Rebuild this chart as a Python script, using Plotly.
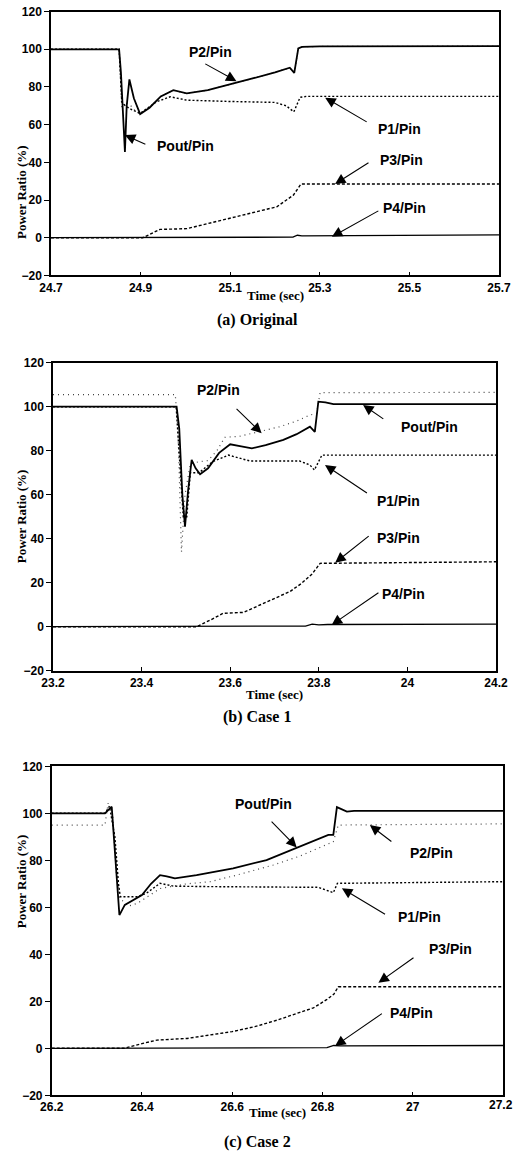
import plotly.graph_objects as go

# ---------------- Panel (a) Original ----------------
a_pout_t = [24.70, 24.852, 24.856, 24.865, 24.869, 24.875, 24.885, 24.899, 24.92, 24.945, 24.973, 24.99, 25.003, 25.05, 25.10, 25.15, 25.20, 25.233, 25.243, 25.252, 25.26, 25.30, 25.70]
a_pout_v = [100, 100, 88, 45.5, 70, 84, 74, 65.6, 69, 75, 78.3, 77.2, 76.6, 78.3, 81.3, 84.5, 87.8, 90.2, 87.5, 100.5, 101.3, 101.5, 101.7]
a_p2_t = [24.70, 24.852, 24.858, 24.866, 24.875, 24.885, 24.899, 24.92, 24.945, 24.973, 24.99, 25.003, 25.05, 25.10, 25.15, 25.20, 25.233, 25.243, 25.252, 25.26, 25.30, 25.70]
a_p2_v = [100, 100, 69, 72, 71, 68, 65.6, 69, 75, 78.3, 77.2, 76.6, 78.3, 81.3, 84.5, 87.8, 90.2, 87.5, 100.5, 101.3, 101.5, 101.7]
a_p1_t = [24.70, 24.852, 24.858, 24.866, 24.88, 24.899, 24.936, 24.966, 25.003, 25.05, 25.10, 25.20, 25.225, 25.242, 25.256, 25.27, 25.70]
a_p1_v = [100, 100, 72, 70, 68, 66, 72.2, 74.8, 73, 72.5, 72.3, 71.8, 70, 66.8, 74.5, 75, 75]
a_p3_t = [24.70, 24.905, 24.943, 25.003, 25.05, 25.10, 25.15, 25.204, 25.241, 25.258, 25.70]
a_p3_v = [0, 0, 4.4, 4.8, 7.5, 10.3, 13, 16.4, 22.6, 28.5, 28.5]
a_p4_t = [24.70, 25.24, 25.25, 25.26, 25.70]
a_p4_v = [0, 0.3, 1.3, 1.0, 1.5]

# ---------------- Panel (b) Case 1 ----------------
b_pout_t = [23.20, 23.479, 23.485, 23.492, 23.498, 23.505, 23.513, 23.522, 23.532, 23.55, 23.575, 23.60, 23.625, 23.649, 23.68, 23.72, 23.75, 23.78, 23.791, 23.799, 23.815, 23.833, 24.20]
b_pout_v = [100, 100, 90, 60, 45.5, 62, 75.8, 72, 69.3, 72, 79, 82.9, 82, 81.1, 82.5, 84.9, 87.5, 90.9, 88.6, 102.3, 102, 101.2, 101.2]
b_p2_t = [23.20, 23.476, 23.482, 23.49, 23.498, 23.51, 23.53, 23.55, 23.57, 23.588, 23.62, 23.667, 23.712, 23.75, 23.78, 23.795, 23.803, 24.20]
b_p2_v = [105.5, 105.5, 90, 34, 60, 74, 75, 75.5, 80, 86.1, 86.5, 88.6, 90.9, 93.5, 96.2, 97, 106.4, 106.5]
b_p1_t = [23.20, 23.478, 23.486, 23.494, 23.502, 23.51, 23.53, 23.56, 23.596, 23.645, 23.70, 23.757, 23.78, 23.79, 23.807, 24.20]
b_p1_v = [100, 100, 75, 50, 50, 70, 70, 75, 78, 75.3, 75.3, 75.3, 73.5, 71.2, 78, 78]
b_p3_t = [23.20, 23.524, 23.555, 23.584, 23.63, 23.67, 23.705, 23.735, 23.761, 23.785, 23.803, 24.20]
b_p3_v = [0, 0, 3, 6.1, 6.5, 10, 13.2, 16, 19.7, 24, 28.8, 29.5]
b_p4_t = [23.20, 23.77, 23.785, 23.80, 23.82, 24.20]
b_p4_v = [0, 0.3, 1.2, 0.8, 1.0, 1.2]

# ---------------- Panel (c) Case 2 ----------------
c_pout_t = [26.20, 26.318, 26.333, 26.342, 26.35, 26.362, 26.40, 26.42, 26.44, 26.455, 26.473, 26.521, 26.588, 26.602, 26.676, 26.743, 26.813, 26.824, 26.832, 26.854, 26.87, 27.20]
c_pout_v = [100, 100, 102.8, 80, 56.7, 61, 65.2, 70, 73.7, 73.2, 72.3, 73.7, 76.3, 76.6, 80.1, 85.5, 90.8, 90.8, 102.6, 100.7, 101, 101]
c_p2_t = [26.20, 26.318, 26.325, 26.335, 26.343, 26.351, 26.37, 26.39, 26.44, 26.50, 26.551, 26.61, 26.691, 26.75, 26.824, 26.835, 27.20]
c_p2_v = [95, 95, 104.3, 100, 75, 63.8, 60.5, 61.7, 68, 70, 70.9, 73.7, 78, 81.8, 87.9, 95, 95.5]
c_p1_t = [26.20, 26.318, 26.328, 26.340, 26.348, 26.352, 26.39, 26.41, 26.44, 26.47, 26.55, 26.65, 26.75, 26.791, 26.824, 26.833, 27.20]
c_p1_v = [100, 100, 103, 90, 70, 64.5, 64.5, 66, 70.2, 69, 68.8, 68.6, 68.6, 68.5, 66.2, 70.2, 70.9]
c_p3_t = [26.20, 26.36, 26.40, 26.433, 26.50, 26.55, 26.60, 26.65, 26.70, 26.75, 26.78, 26.81, 26.825, 26.835, 27.20]
c_p3_v = [0, 0, 2, 3.5, 4.2, 5.5, 7.1, 9.2, 12, 15.3, 17.2, 20.8, 23, 26.2, 26.2]
c_p4_t = [26.20, 26.81, 26.825, 26.84, 27.20]
c_p4_v = [0, 0.3, 1.2, 1.0, 1.2]

# axis ranges / ticks
x_ranges = [[24.7, 25.7], [23.2, 24.2], [26.2, 27.2]]
x_ticks = [[24.7, 24.9, 25.1, 25.3, 25.5, 25.7],
           [23.2, 23.4, 23.6, 23.8, 24.0, 24.2],
           [26.2, 26.4, 26.6, 26.8, 27.0, 27.2]]
x_ticktext = [["24.7", "24.9", "25.1", "25.3", "25.5", "25.7"],
              ["23.2", "23.4", "23.6", "23.8", "24", "24.2"],
              ["26.2", "26.4", "26.6", "26.8", "27", ""]]
edge_label = "27.2"   # last tick of panel (c), sits at the page edge
y_ticks = [-20, 0, 20, 40, 60, 80, 100, 120]
captions = ["(a) Original", "(b) Case 1", "(c) Case 2"]

# label positions: (label, text_x, text_y, tail_x, tail_y, head_x, head_y)
a_labels = [("P2/Pin", 25.056, 98.7, 25.041, 92.7, 25.114, 83.1),
            ("Pout/Pin", 25.00, 48.8, 24.914, 49.2, 24.865, 54.5),
            ("P1/Pin", 25.479, 57.7, 25.408, 61.0, 25.312, 74.3),
            ("P3/Pin", 25.483, 41.2, 25.412, 40.3, 25.334, 28.5),
            ("P4/Pin", 25.49, 15.9, 25.434, 14.7, 25.327, 0.5)]
b_labels = [("P2/Pin", 23.573, 107.6, 23.611, 99.7, 23.671, 87.9),
            ("Pout/Pin", 24.051, 90.6, 23.949, 94.0, 23.90, 100.8),
            ("P1/Pin", 23.979, 57.3, 23.912, 60.3, 23.814, 73.5),
            ("P3/Pin", 23.979, 40.2, 23.916, 41.7, 23.837, 29.1),
            ("P4/Pin", 23.991, 14.9, 23.938, 15.9, 23.829, 0.8)]
c_labels = [("Pout/Pin", 26.669, 104.0, 26.684, 97.1, 26.743, 85.5),
            ("P2/Pin", 27.042, 83.0, 26.956, 87.5, 26.905, 95.0),
            ("P1/Pin", 27.016, 56.0, 26.942, 56.7, 26.843, 68.1),
            ("P3/Pin", 27.083, 42.1, 27.005, 39.0, 26.924, 27.9),
            ("P4/Pin", 26.998, 15.2, 26.935, 15.2, 26.828, 1.0)]

W, H = 515, 1161
# plot areas in pixels: (left, right, top, bottom)
boxes = [(51, 499, 11.6, 275.4), (53, 496, 362.7, 670.7), (51.7, 503, 766.3, 1095.3)]
xtitle_y = [295, 694, 1112]
caption_y = [320, 716.7, 1142]

panels = [
    (a_pout_t, a_pout_v, a_p2_t, a_p2_v, a_p1_t, a_p1_v, a_p3_t, a_p3_v, a_p4_t, a_p4_v, a_labels),
    (b_pout_t, b_pout_v, b_p2_t, b_p2_v, b_p1_t, b_p1_v, b_p3_t, b_p3_v, b_p4_t, b_p4_v, b_labels),
    (c_pout_t, c_pout_v, c_p2_t, c_p2_v, c_p1_t, c_p1_v, c_p3_t, c_p3_v, c_p4_t, c_p4_v, c_labels),
]

tickfont = dict(family="Arial", size=12, color="black", weight="bold")
fig = go.Figure()
annotations = []
layout = {}
for i, p in enumerate(panels):
    (pt, pv, p2t, p2v, p1t, p1v, p3t, p3v, p4t, p4v, labels) = p
    sfx = "" if i == 0 else str(i + 1)
    xa, ya = "x" + sfx, "y" + sfx
    fig.add_trace(go.Scatter(x=p2t, y=p2v, mode="lines", xaxis=xa, yaxis=ya,
                             line=dict(color="#444", width=1.2, dash="1px,4px"), name="P2/Pin", showlegend=False))
    fig.add_trace(go.Scatter(x=p1t, y=p1v, mode="lines", xaxis=xa, yaxis=ya,
                             line=dict(color="black", width=1.4, dash="2px,2px"), name="P1/Pin", showlegend=False))
    fig.add_trace(go.Scatter(x=p3t, y=p3v, mode="lines", xaxis=xa, yaxis=ya,
                             line=dict(color="black", width=1.4, dash="3px,2px"), name="P3/Pin", showlegend=False))
    fig.add_trace(go.Scatter(x=p4t, y=p4v, mode="lines", xaxis=xa, yaxis=ya,
                             line=dict(color="black", width=1.3), name="P4/Pin", showlegend=False))
    fig.add_trace(go.Scatter(x=pt, y=pv, mode="lines", xaxis=xa, yaxis=ya,
                             line=dict(color="black", width=1.8), name="Pout/Pin", showlegend=False))

    l, r, t, b = boxes[i]
    common = dict(showline=True, linecolor="black", linewidth=1.5, mirror=True,
                  tickwidth=1.2, tickcolor="black",
                  showgrid=False, zeroline=False, automargin=False, tickfont=tickfont)
    layout["xaxis" + sfx] = dict(common, domain=[l / W, r / W], range=x_ranges[i],
                                 ticks="inside", ticklen=4,
                                 tickvals=x_ticks[i], ticktext=x_ticktext[i], anchor=ya)
    layout["yaxis" + sfx] = dict(common, domain=[1 - b / H, 1 - t / H], range=[-20, 120],
                                 ticks="outside", ticklen=5,
                                 tickvals=y_ticks, anchor=xa)

    for (txt, tx, ty, axx, ayy, hx, hy) in labels:
        annotations.append(dict(x=tx, y=ty, xref=xa, yref=ya, text=txt, showarrow=False,
                                font=dict(family="Arial", size=14, color="black", weight="bold")))
        annotations.append(dict(x=hx, y=hy, xref=xa, yref=ya, ax=axx, ay=ayy, axref=xa, ayref=ya,
                                text="", showarrow=True, arrowhead=2, arrowsize=1.9,
                                arrowwidth=1.1, arrowcolor="black", standoff=0))
    annotations.append(dict(x=(l + r) / 2 / W, y=1 - xtitle_y[i] / H, xref="paper", yref="paper",
                            text="Time (sec)", showarrow=False, yanchor="middle",
                            font=dict(family="Liberation Serif", size=13, color="black", weight="bold")))
    annotations.append(dict(x=12 / W, y=1 - (t + b) / 2 / H, xref="paper", yref="paper",
                            text="Power Ratio (%)", textangle=-90, showarrow=False,
                            font=dict(family="Liberation Serif", size=13, color="black", weight="bold")))
    annotations.append(dict(x=257 / W, y=1 - caption_y[i] / H, xref="paper", yref="paper",
                            text=captions[i], showarrow=False, yanchor="middle",
                            font=dict(family="Liberation Serif", size=16, color="black", weight="bold")))

# last tick label of panel (c) kept inside the page
annotations.append(dict(x=1.0, y=1 - 1105 / H, xref="paper", yref="paper", text=edge_label,
                        showarrow=False, xanchor="right", yanchor="middle", font=tickfont))

fig.update_layout(**layout)
fig.update_layout(width=W, height=H, margin=dict(l=0, r=0, t=0, b=0, autoexpand=False),
                  paper_bgcolor="white", plot_bgcolor="white",
                  annotations=annotations, showlegend=False)
fig.write_html("out.html", config={"displayModeBar": False},
               post_script="document.body.style.margin='0px';document.body.style.padding='0px';")
